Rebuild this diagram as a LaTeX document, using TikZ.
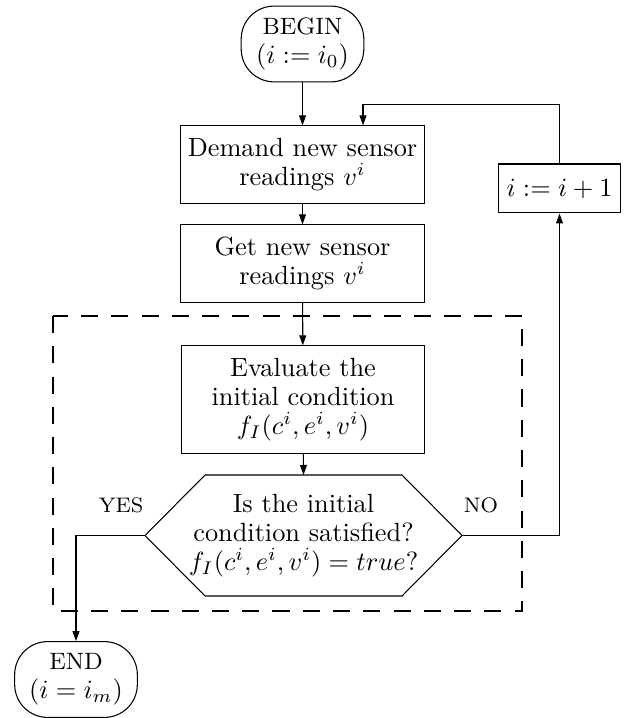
\documentclass[tikz,border=0pt]{standalone}
\usetikzlibrary{arrows.meta,calc}
\begin{document}
\begin{tikzpicture}[x=0.38pt,y=-0.38pt,
  line width=0.4pt,
  every node/.style={font=\fontsize{10}{11}\selectfont, align=center, inner sep=0pt},
  stepbox/.style={draw, minimum width=92.4pt, minimum height=29.3pt},
  terminal/.style={draw, rounded corners=12.5pt, minimum width=46.6pt, minimum height=28.8pt},
  flow/.style={-{Triangle[length=3.8pt,width=2.6pt]}},
  answer/.style={font=\footnotesize},
  frame/.style={dash pattern=on 6.5pt off 5pt}]
\useasboundingbox (0,0) rectangle (629,718);

% main column
\node[terminal] (start) at (302.5,44) {{\small BEGIN}\\$(i:=i_0)$};
\node[stepbox] (demand) at (302.5,164.5) {Demand new sensor\\readings $v^i$};
\node[stepbox] (get) at (302.5,263.5) {Get new sensor\\readings $v^i$};
\node[stepbox, minimum height=40.7pt] (eval) at (303,399.5)
  {Evaluate the\\initial condition\\$f_I(c^i,e^i,v^i)$};
\node (test) at (303.5,535.5)
  {Is the initial\\condition satisfied?\\$f_I(c^i,e^i,v^i)=true?$};

% hexagonal decision shape around the test
\coordinate (hl) at ($(test.center)+(-158.5,0)$);
\coordinate (hr) at ($(test.center)+(158.5,0)$);
\coordinate (ht) at ($(test.center)+(0,-60.5)$);
\draw (hl) -- ($(test.center)+(-98.5,-60.5)$) -- ($(test.center)+(98.5,-60.5)$)
  -- (hr) -- ($(test.center)+(98.5,60.5)$) -- ($(test.center)+(-98.5,60.5)$) -- cycle;

% side and end nodes
\node[draw, minimum width=46.7pt, minimum height=18.6pt] (inc) at (559.5,188.5) {$i:=i+1$};
\node[terminal] (finish) at (76,679.5) {{\small END}\\$(i=i_m)$};

\node[answer] (yes) at (121,505) {YES};
\node[answer] (no) at (481,505) {NO};

% evaluation block
\draw[frame] (53,316) rectangle (522,611);

% connectors
\draw[flow] (start) -- (demand);
\draw[flow] (demand) -- (get);
\draw[flow] (get) -- (eval);
\draw[flow] (eval) -- (ht);
\draw[flow] (hl) -| (finish);
\draw[flow] (hr) -| (inc);
\coordinate (loop) at (363,104.5);
\draw[flow] (inc) |- (loop) -- (loop |- demand.north);
\end{tikzpicture}
\end{document}
